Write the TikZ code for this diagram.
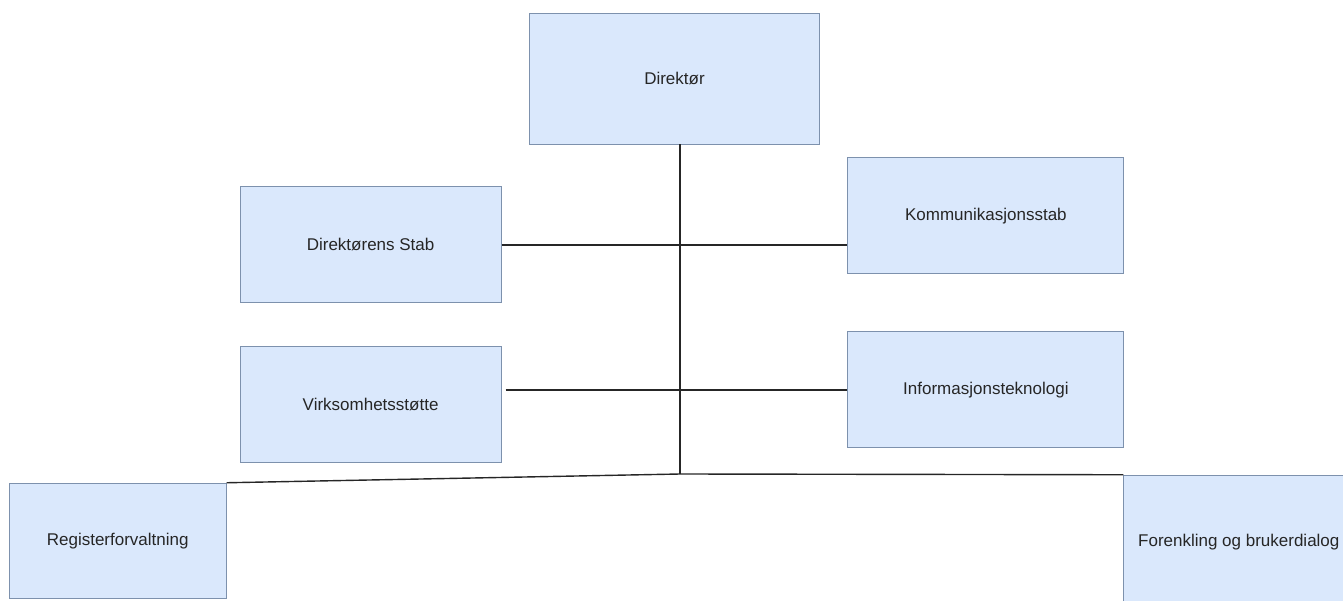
\documentclass[tikz,border=0pt]{standalone}
\usepackage{fontspec}
\setmainfont{Liberation Sans}
\usetikzlibrary{positioning}
\definecolor{unitfill}{HTML}{DAE8FC}
\definecolor{unitdraw}{HTML}{7D91AD}
\tikzstyle{unit} = [rectangle, minimum width=261pt, minimum height=116pt, inner sep=0pt, text centered, draw=unitdraw, line width=0.9pt, fill=unitfill, text=black!85, font=\fontsize{17pt}{20pt}\selectfont]
\tikzstyle{link} = [line width=1.4pt, black!85]

\begin{document}
\begin{tikzpicture}[x=1pt, y=-1pt]
\useasboundingbox (0,0) rectangle (1343,601);
\clip (0,0) rectangle (1343,601);

% Nodes
\node (dir) [unit, minimum width=290pt, minimum height=131pt] at (674.5,78.5) {Direktør};
\node (stab) [unit, below left=42pt and 27.5pt of dir] {Direktørens Stab};
\node (kom) [unit, minimum width=276pt, below right=13pt and 27.5pt of dir] {Kommunikasjonsstab};
\node (virk) [unit, below=43pt of stab] {Virksomhetsstøtte};
\node (inf) [unit, minimum width=276pt, below=57pt of kom] {Informasjonsteknologi};
\node (reg) [unit, minimum width=217pt, minimum height=115pt, below left=19.5pt and 13pt of virk] {Registerforvaltning};
\node (fore) [unit, minimum width=230pt, minimum height=134pt, below right=26.5pt and -1pt of inf] {Forenkling og brukerdialog};
\coordinate (hub) at (680,474);

% Lines
\draw [link] (dir.south -| hub) -- (hub);
\draw [link] (stab.east) -- (stab.east -| kom.west);
\draw [link] ([xshift=4pt]virk.east |- inf.west) -- (inf.west);
\draw [link] (reg.north east) -- (hub) -- (fore.north west);

\end{tikzpicture}
\end{document}
